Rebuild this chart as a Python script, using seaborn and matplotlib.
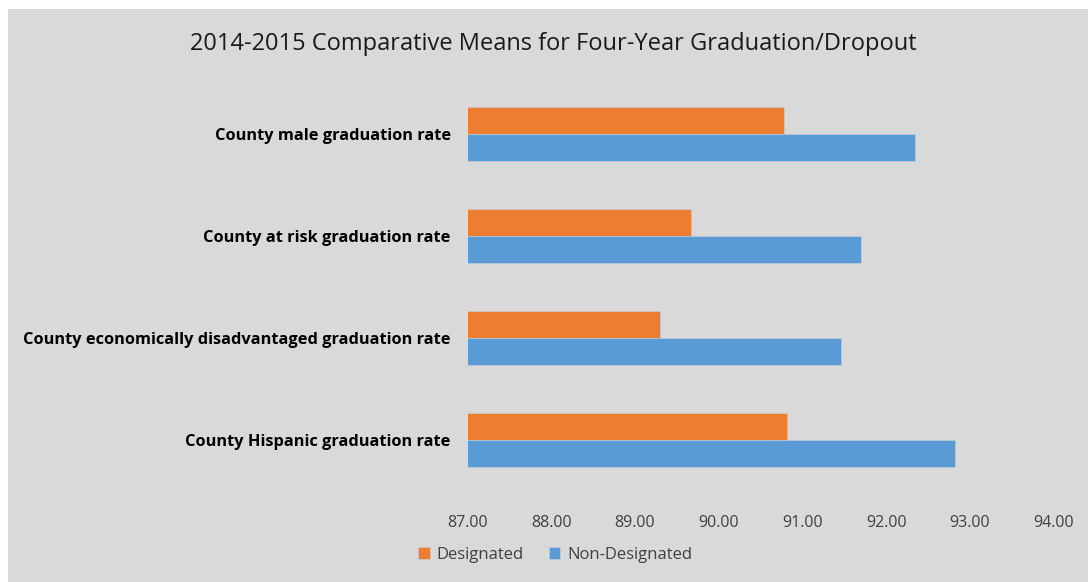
import pandas as pd
import matplotlib
matplotlib.use("Agg")
import matplotlib.pyplot as plt
import seaborn as sns
from matplotlib.patches import Rectangle

# Data
categories = [
    "County male graduation rate",
    "County at risk graduation rate",
    "County economically disadvantaged graduation rate",
    "County Hispanic graduation rate",
]
designated = [90.78, 89.67, 89.30, 90.81]
non_designated = [92.35, 91.70, 91.46, 92.82]
x_ticks = [87, 88, 89, 90, 91, 92, 93, 94]

df = pd.DataFrame({
    "category": categories * 2,
    "value": designated + non_designated,
    "group": ["Designated"] * 4 + ["Non-Designated"] * 4,
})

W, H = 1088, 582
fig = plt.figure(figsize=(W / 100, H / 100), dpi=100)
fig.patch.set_facecolor("white")
bg = "#D9D9D9"
fig.patches.append(Rectangle((8 / W, 0), 1 - 8 / W, 1 - 9 / H,
                             transform=fig.transFigure, facecolor=bg,
                             edgecolor="none", zorder=-10))

ax = fig.add_axes([467.5 / W, 1 - 491 / H, (1053.6 - 467.5) / W, (491 - 83) / H])
ax.set_facecolor("none")

sns.barplot(data=df, y="category", x="value", hue="group", orient="h",
            palette=["#ED7D31", "#5B9BD5"], saturation=1, width=0.53, ax=ax,
            edgecolor="#C8D0DA", linewidth=0.4)

ax.set_xlim(87, 94)
ax.set_xticks(x_ticks)
ax.set_xticklabels([f"{t:.2f}" for t in x_ticks], fontsize=11.5, color="#404040",
                   family="Open Sans")
ax.tick_params(axis="x", length=0, pad=17)
ax.tick_params(axis="y", length=0, pad=12)
for lab in ax.get_yticklabels():
    lab.set_fontweight("bold")
    lab.set_fontsize(11.75)
    lab.set_family("Open Sans")
    lab.set_color("black")
ax.set_xlabel("")
ax.set_ylabel("")
for s in ax.spines.values():
    s.set_visible(False)

fig.text(553 / W, 1 - 44 / H,
         "2014-2015 Comparative Means for Four-Year Graduation/Dropout",
         ha="center", va="center", fontsize=17, color="#1a1a1a",
         family="Open Sans")

sns.move_legend(ax, "center", bbox_to_anchor=(555 / W, 1 - 555 / H),
                bbox_transform=fig.transFigure, ncol=2, frameon=False,
                title=None, fontsize=12, handlelength=0.7, handleheight=0.7,
                handletextpad=0.4, columnspacing=1.5)
for t in ax.get_legend().get_texts():
    t.set_family("Open Sans")
    t.set_color("#404040")

fig.savefig("out.png", dpi=100, facecolor=fig.get_facecolor())
